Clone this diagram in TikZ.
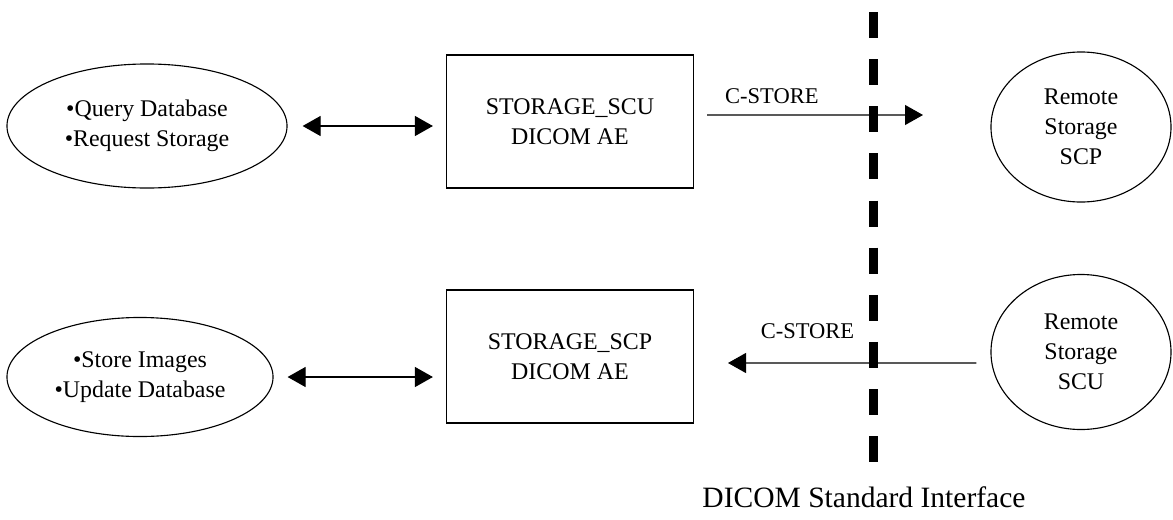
\documentclass[tikz,border=0pt]{standalone}
\usepackage{fontspec}
\setmainfont{Liberation Serif}
\usetikzlibrary{positioning}
\usetikzlibrary{shapes.geometric, arrows.meta}

\begin{document}
\begin{tikzpicture}[x=0.025cm,y=-0.025cm,
		every node/.style={font=\fontsize{17}{21.3}\selectfont},
		oval/.style={draw,ellipse,line width=0.8pt,align=center,inner sep=0pt},
		aebox/.style={draw,rectangle,line width=0.8pt,align=center,minimum width=6.175cm,minimum height=3.325cm},
		msg/.style={font=\fontsize{16}{19}\selectfont},
		link/.style={line width=0.8pt,-{Triangle[length=0.45cm,width=0.5cm]}},
		dbllink/.style={line width=0.8pt,{Triangle[length=0.45cm,width=0.5cm]}-{Triangle[length=0.45cm,width=0.5cm]}}]
			\useasboundingbox (0,0) rectangle (1173,520);
			% local functions
			\node[oval,minimum width=7cm,minimum height=3.1cm] (qry) at (147,126)
				{\textbullet Query Database\\ \textbullet Request Storage};
			\node[oval,minimum width=6.65cm,minimum height=2.975cm] (sto) at (140,377)
				{\textbullet Store Images\\ \textbullet Update Database};
			% application entities
			\node[aebox] (scu) at (570,121.5) {STORAGE\_SCU\\ DICOM AE};
			\node[aebox] (scp) at (570,356.5) {STORAGE\_SCP\\ DICOM AE};
			% remote peers
			\node[oval,minimum width=4.5cm,minimum height=3.75cm] (rscp) at (1081,127)
				{Remote\\ Storage\\ SCP};
			\node[oval,minimum width=4.5cm,minimum height=3.875cm] (rscu) at (1081,352)
				{Remote\\ Storage\\ SCU};
			% interface boundary
			\coordinate (btop) at (873,12);
			\coordinate (bbot) at (873,463);
			\draw[line width=0.225cm,dash pattern=on 0.65cm off 0.528cm] (btop) -- (bbot);
			\node (iface) at (864,497) {\fontsize{21}{25}\selectfont DICOM Standard Interface};
			% connections
			\draw[dbllink,shorten <=0.375cm,shorten >=0.325cm] (qry.east) -- (qry.east -| scu.west);
			\draw[dbllink,shorten <=0.35cm,shorten >=0.325cm] (sto.east) -- (sto.east -| scp.west);
			\coordinate (out1) at (923,115);
			\draw[link] ([xshift=0.325cm,yshift=0.1625cm]scu.east) -- (out1)
				node[msg,pos=0.3,above=0.15cm] (lbl1) {C-STORE};
			\coordinate (in1) at (728,363);
			\draw[link] ([xshift=-0.35cm,yshift=-0.275cm]rscu.west) -- (in1)
				node[msg,pos=0.68,above=0.47cm] (lbl2) {C-STORE};
		\end{tikzpicture}
\end{document}
